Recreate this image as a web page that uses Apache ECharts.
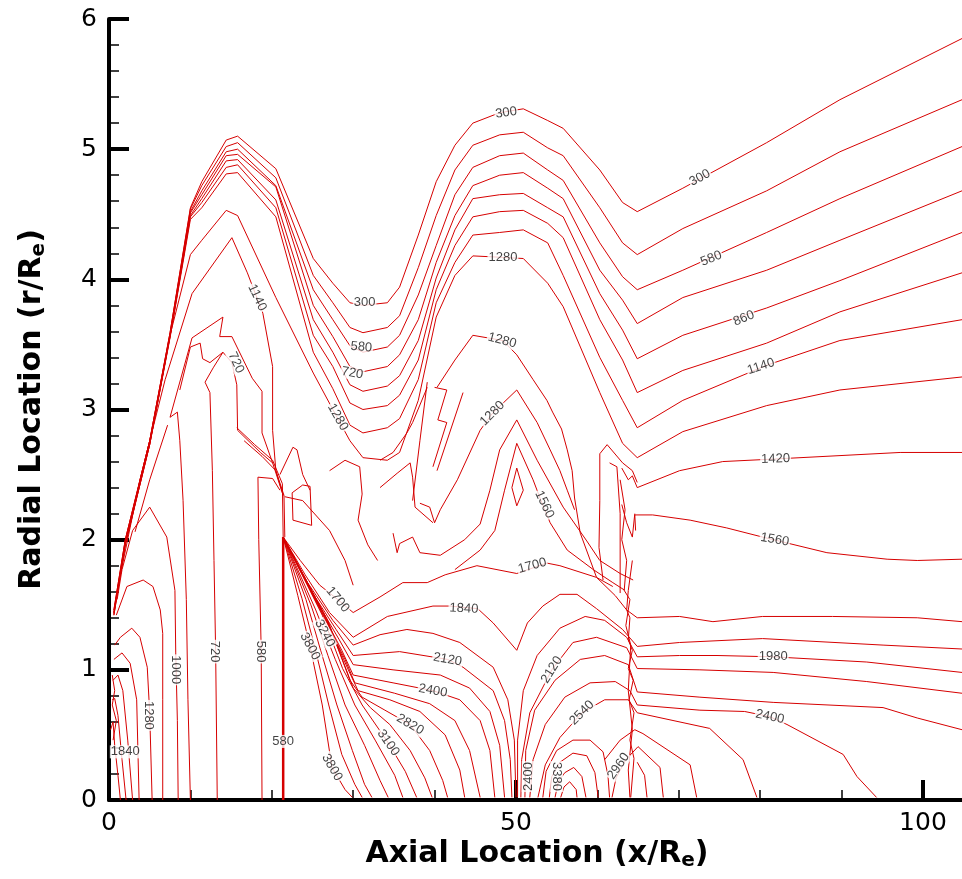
<!DOCTYPE html>
<html><head><meta charset="utf-8">
<script src="https://cdn.jsdelivr.net/npm/echarts@6/dist/echarts.min.js"></script>
<style>html,body{margin:0;padding:0;background:#fff}#c{width:962px;height:879px}</style>
</head><body><div id="c"></div>
<script>
// ---------- contour data (x/Re, r/Re) ----------
const uX = [0.6,2.0,5.0,7.5,10.0,11.4,14.4,15.8,20.5,25.1,27.5,29.6,31.2,34.2,35.7,38.0,40.2,42.5,44.7,48.0,50.9,53.9,55.8,60.3,63.1,64.9,70.5,80.8,89.8,104.8];
const u300Y  = [1.46,2.00,2.76,3.59,4.55,4.75,5.07,5.10,4.85,4.16,3.97,3.82,3.80,3.82,3.94,4.34,4.75,5.03,5.20,5.28,5.31,5.22,5.16,4.84,4.59,4.52,4.70,5.05,5.38,5.85];
const u440Y  = [1.46,2.00,2.76,3.59,4.54,4.72,5.02,5.05,4.78,4.03,3.82,3.63,3.59,3.63,3.72,4.09,4.49,4.84,5.03,5.11,5.13,5.01,4.95,4.55,4.28,4.19,4.39,4.68,4.98,5.38];
const u580Y  = [1.44,1.99,2.76,3.58,4.52,4.68,4.98,5.00,4.72,3.92,3.69,3.49,3.44,3.48,3.57,3.88,4.26,4.65,4.86,4.95,4.97,4.84,4.76,4.28,4.02,3.92,4.07,4.36,4.62,5.02];
const u720Y  = [1.44,1.98,2.75,3.57,4.51,4.65,4.95,4.96,4.71,3.80,3.56,3.33,3.29,3.33,3.42,3.69,4.13,4.49,4.72,4.80,4.82,4.70,4.62,4.07,3.84,3.66,3.86,4.07,4.30,4.68];
const u860Y  = [1.44,1.97,2.74,3.56,4.49,4.62,4.91,4.92,4.61,3.69,3.44,3.19,3.14,3.18,3.26,3.53,4.01,4.38,4.62,4.65,4.66,4.55,4.48,3.89,3.61,3.39,3.57,3.78,3.99,4.36];
const u1000Y = [1.43,1.97,2.73,3.56,4.48,4.59,4.86,4.88,4.55,3.57,3.33,3.05,3.00,3.03,3.11,3.38,3.92,4.26,4.48,4.52,4.53,4.43,4.32,3.69,3.38,3.13,3.30,3.51,3.75,4.05];
const u1140Y = [1.42,1.96,2.73,3.55,4.46,4.55,4.81,4.82,4.48,3.44,3.16,2.88,2.82,2.86,2.93,3.23,3.82,4.13,4.34,4.36,4.38,4.28,4.03,3.40,3.07,2.86,3.07,3.34,3.53,3.69];
const u1280Y = [1.42,1.96,2.73,3.57,4.19,4.30,4.53,4.49,3.86,3.28,3.00,2.76,2.63,2.61,2.67,3.07,3.71,4.03,4.18,4.17,4.16,3.97,3.79,3.13,2.74,2.63,2.83,3.03,3.15,3.25];

const c1420R = [[63.0,2.55],[63.8,2.46],[64.3,2.49],[64.9,2.40],[70.1,2.53],[75.4,2.60],[81.9,2.62],[97.2,2.67],[104.8,2.67]];
const c1560R = [[64.7,2.07],[64.6,2.19],[66.8,2.19],[71.4,2.15],[75.9,2.09],[80.3,2.02],[88.2,1.90],[95.6,1.85],[99.3,1.84],[104.8,1.85]];
const c1700 = [[21.4,2.02],[23.5,1.84],[25.9,1.65],[28.1,1.54],[30.0,1.44],[33.3,1.56],[36.1,1.67],[39.1,1.67],[41.3,1.73],[45.2,1.80],[50.1,1.74],[53.8,1.82],[55.4,1.80],[59.9,1.71],[62.2,1.57],[63.6,1.46],[64.9,1.40],[70.1,1.41],[74.2,1.37],[80.3,1.41],[88.9,1.41],[99.3,1.40],[104.8,1.37]];
const c1840 = [[21.4,2.02],[24.1,1.73],[27.1,1.44],[30.0,1.25],[34.2,1.41],[39.8,1.49],[41.9,1.49],[45.3,1.47],[47.2,1.36],[50.1,1.15],[51.4,1.36],[53.3,1.49],[55.4,1.58],[57.5,1.58],[59.9,1.47],[63.1,1.31],[64.9,1.18],[70.1,1.21],[80.3,1.24],[95.1,1.19],[104.8,1.16]];
const f1980 = [[21.4,2.02],[24.4,1.67],[27.5,1.38],[30.0,1.19],[33.3,1.27],[36.6,1.31],[39.8,1.28],[43.1,1.21],[47.2,1.02],[49.0,0.77],[49.8,0.46],[50.0,0.02]];
const f2120 = [[21.4,2.02],[24.8,1.61],[27.9,1.31],[30.0,1.11],[35.7,1.14],[41.6,1.08],[43.5,1.02],[47.2,0.84],[48.6,0.61],[49.3,0.31],[49.5,0.02]];
const f2260 = [[21.4,2.02],[25.2,1.56],[28.3,1.23],[30.0,1.04],[34.9,1.00],[40.7,0.96],[44.3,0.86],[46.8,0.68],[48.0,0.42],[48.6,0.02]];
const f2400 = [[21.4,2.02],[25.6,1.51],[28.6,1.15],[30.0,0.96],[34.9,0.90],[39.8,0.84],[43.1,0.77],[45.6,0.61],[46.8,0.38],[47.4,0.02]];
const f2540 = [[21.4,2.02],[25.9,1.47],[29.0,1.08],[30.2,0.90],[35.1,0.82],[39.4,0.74],[42.5,0.61],[44.3,0.38],[45.6,0.02]];
const f2680 = [[21.4,2.02],[26.3,1.44],[29.4,1.00],[30.6,0.84],[34.5,0.77],[38.2,0.68],[41.3,0.50],[43.1,0.23],[43.7,0.02]];
const f2820 = [[21.4,2.02],[26.7,1.40],[29.6,0.92],[31.1,0.79],[33.9,0.69],[37.0,0.58],[39.4,0.38],[41.0,0.15],[41.6,0.02]];
const f2960 = [[21.4,2.02],[27.0,1.36],[30.0,0.86],[32.1,0.71],[34.5,0.58],[37.0,0.38],[38.8,0.17],[39.7,0.02]];
const f3100 = [[21.4,2.02],[26.2,1.42],[28.7,1.01],[31.1,0.73],[34.3,0.44],[36.4,0.22],[37.8,0.02]];
const f3240 = [[21.4,2.02],[25.4,1.46],[27.8,1.08],[30.2,0.73],[32.7,0.46],[35.1,0.19],[36.1,0.02]];
const f3380 = [[21.4,2.02],[24.8,1.50],[26.9,1.11],[29.0,0.73],[31.4,0.42],[33.3,0.15],[34.3,0.02]];
const f3520 = [[21.4,2.02],[24.2,1.54],[26.0,1.15],[28.0,0.73],[29.9,0.38],[31.4,0.12],[32.3,0.02]];
const f3660 = [[21.4,2.02],[23.7,1.55],[25.3,1.17],[27.0,0.73],[28.6,0.35],[30.2,0.12],[31.1,0.02]];
const f3800 = [[21.4,2.02],[23.2,1.57],[24.7,1.18],[26.2,0.73],[27.4,0.25],[29.0,0.08],[29.9,0.02]];
const r1980 = [[50.2,0.02],[50.2,0.46],[50.9,0.84],[52.6,1.11],[55.4,1.32],[58.5,1.41],[60.9,1.38],[63.6,1.25],[64.9,1.10],[70.1,1.11],[74.7,1.11],[81.6,1.10],[93.1,1.06],[104.8,0.98]];
const r2120 = [[50.6,0.02],[50.7,0.31],[51.7,0.67],[54.4,1.00],[57.0,1.21],[59.9,1.25],[63.6,1.17],[64.9,1.01],[72.6,1.00],[81.6,0.98],[93.1,0.91],[104.8,0.82]];
const r2260 = [[51.1,0.02],[51.2,0.38],[52.3,0.69],[54.8,0.92],[57.9,1.08],[60.9,1.11],[63.8,1.04],[64.9,0.83],[72.6,0.79],[81.6,0.75],[95.1,0.71],[99.3,0.63],[104.8,0.54]];
const r2400 = [[51.7,0.02],[52.1,0.31],[53.6,0.58],[56.0,0.79],[59.1,0.90],[62.2,0.91],[64.0,0.84],[64.9,0.73],[72.6,0.69],[78.1,0.68],[81.2,0.64],[83.3,0.58],[90.2,0.35],[91.9,0.18],[94.3,0.02]];
const r2540 = [[52.7,0.02],[53.6,0.27],[55.4,0.48],[58.1,0.67],[60.9,0.77],[63.8,0.77],[64.9,0.67],[73.8,0.55],[77.9,0.31],[79.6,0.02]];
const r2680 = [[60.9,0.31],[62.8,0.46],[64.6,0.54],[65.6,0.51],[71.4,0.27],[72.2,0.02]];
const r2960 = [[61.8,0.02],[62.3,0.17],[63.5,0.31],[65.0,0.41],[67.7,0.25],[68.1,0.02]];
const r3100 = [[64.9,0.29],[65.8,0.19],[66.1,0.02]];
const a2680 = [[53.3,0.02],[53.7,0.22],[55.0,0.38],[57.0,0.46],[59.1,0.46],[60.7,0.37],[61.3,0.19],[61.5,0.02]];
const a2820 = [[54.1,0.02],[54.4,0.18],[55.4,0.29],[57.0,0.36],[58.7,0.34],[59.7,0.21],[60.1,0.02]];
const a2960 = [[54.8,0.02],[55.2,0.14],[56.0,0.21],[57.1,0.25],[58.1,0.18],[58.6,0.02]];
const a3100 = [[55.5,0.02],[55.9,0.10],[56.6,0.14],[57.4,0.08],[57.5,0.02]];
const bandA = [[64.3,1.84],[63.8,1.61],[63.6,1.46],[64.0,1.40],[63.8,1.23],[64.3,1.15],[63.8,1.01],[64.4,0.92],[63.9,0.77],[64.5,0.67],[64.0,0.46],[64.5,0.32],[64.1,0.02]];
const bandB = [[62.8,2.46],[63.4,2.23],[63.0,2.00],[63.6,1.84],[63.3,1.61],[64.0,1.54],[63.5,1.34],[64.1,1.19],[63.8,0.84],[64.3,0.54],[63.8,0.23],[64.0,0.02]];
const sq1 = [[60.3,2.66],[61.2,2.73],[63.1,2.59],[64.3,2.53],[64.9,2.44]];
const sq2 = [[60.3,2.66],[60.3,2.30],[60.2,1.94],[60.7,1.69]];
const sq3 = [[61.5,2.59],[62.4,2.56],[62.8,2.20],[62.8,1.59]];
const sq4 = [[63.0,2.27],[63.6,2.13],[64.3,2.02],[64.6,2.20]];
const domeA = [[40.3,3.17],[42.5,3.38],[44.7,3.57],[48.4,3.53],[50.1,3.42],[52.1,3.23],[53.8,3.07],[54.5,2.98],[55.6,2.85],[56.3,2.69],[56.9,2.53],[57.2,2.32],[57.9,2.05],[59.9,1.71],[61.9,1.64]];
const domeB = [[38.2,2.28],[39.4,2.25],[40.0,2.13],[40.7,2.23],[42.8,2.46],[45.6,2.84],[47.1,2.97],[50.1,3.15],[52.6,2.90],[54.2,2.69],[55.4,2.53],[56.3,2.38],[57.2,2.23]];
const domeC = [[34.9,2.05],[35.4,1.90],[35.7,1.97],[37.3,2.02],[38.2,1.90],[40.7,1.88],[43.7,2.00],[45.6,2.12],[46.8,2.38],[48.0,2.69],[50.1,2.92],[52.6,2.61],[55.8,2.25],[58.7,1.99],[60.3,1.84],[62.8,1.74],[64.4,1.69]];
const domeD = [[42.5,1.77],[45.6,1.92],[47.4,2.07],[48.6,2.38],[50.1,2.74],[52.1,2.46],[53.2,2.28],[54.2,2.13],[56.3,1.92],[59.5,1.77],[61.9,1.67],[63.4,1.61]];
const loopE = [[50.1,2.55],[50.9,2.38],[50.1,2.26],[49.5,2.40],[50.1,2.55]];
const mess1 = [[33.3,2.61],[34.9,2.67],[36.6,2.82],[37.3,2.90],[39.1,3.17]];
const mess2 = [[33.3,2.40],[35.4,2.51],[37.0,2.59],[37.3,2.48],[37.6,2.25],[39.8,2.13]];
const spike1 = [[39.1,3.21],[38.2,2.76],[37.3,2.30]];
const spike2 = [[40.0,3.17],[41.5,3.15],[40.4,2.92],[41.5,2.90],[39.8,2.56]];
const spike3 = [[43.5,3.13],[40.3,2.53]];
const mess5 = [[27.1,2.53],[29.0,2.61],[30.8,2.56],[31.1,2.35],[30.6,2.15],[31.8,1.96],[33.0,1.84]];
const mess6 = [[21.6,2.33],[23.8,2.30],[27.1,2.07],[29.0,1.84],[30.0,1.65]];
const mess10 = [[21.0,2.50],[22.6,2.71],[23.1,2.69],[23.8,2.50],[24.7,2.38]];
const mess4 = [[22.5,2.36],[23.8,2.42],[24.7,2.41],[24.9,2.11],[22.6,2.15],[22.5,2.36]];
const conv1 = [[15.7,2.86],[17.9,2.73],[20.1,2.61],[21.3,2.43],[21.4,2.02]];
const conv2 = [[16.6,2.76],[18.8,2.64],[20.5,2.53],[21.5,2.34],[21.6,2.02]];
const h1140 = [[1.4,1.73],[3.8,2.46],[6.9,3.23],[10.2,3.89],[15.1,4.32],[17.0,4.05],[18.9,3.74],[20.1,3.33],[20.1,2.84],[20.5,2.53],[21.4,2.34]];
const h860 = [[10.0,0.00],[9.7,0.77],[9.5,1.54],[9.1,2.30],[8.7,2.76],[8.4,2.98],[7.5,2.94],[10.2,3.55],[14.0,3.71],[13.6,3.56],[15.1,3.56],[17.6,3.24],[18.8,3.14],[18.8,2.82],[20.1,2.59],[21.4,2.34]];
const hLeft = [[3.2,2.06],[5.0,2.46],[7.2,2.88]];
const h720 = [[13.3,0.00],[13.1,1.15],[12.9,1.84],[12.7,2.53],[12.4,3.13],[11.8,3.21],[12.8,3.32],[14.0,3.44],[15.1,3.36],[15.7,3.19],[15.8,2.84],[18.6,2.67],[20.1,2.59]];
const hZig = [[8.7,3.15],[10.0,3.48],[11.2,3.51],[11.5,3.39],[12.4,3.36],[14.0,3.44]];
const h580 = [[18.8,0.00],[18.7,1.15],[18.4,2.00],[18.3,2.48],[20.1,2.47],[21.0,2.38]];
const v580 = [[21.4,2.02],[21.4,0.00]];
const a1000 = [[1.0,1.54],[1.6,1.77],[2.9,2.07],[5.0,2.25],[7.1,2.02],[8.1,1.61],[8.2,1.13],[8.4,0.61],[8.5,0.00]];
const a1140 = [[0.9,1.42],[2.2,1.64],[4.2,1.69],[5.4,1.64],[6.3,1.46],[6.6,1.28],[6.6,0.77],[6.6,0.00]];
const a1280 = [[0.7,1.19],[1.4,1.25],[2.8,1.32],[3.8,1.25],[4.7,1.02],[5.0,0.67],[5.3,0.00]];
const a1420 = [[0.6,1.08],[1.6,1.13],[2.6,1.05],[3.4,0.77],[3.7,0.00]];
const a1560 = [[0.5,0.92],[1.1,0.96],[1.7,0.84],[2.3,0.46],[2.9,0.00]];
const a1700 = [[0.4,0.77],[0.7,0.78],[1.1,0.65],[1.6,0.31],[2.1,0.00]];
const a1840 = [[0.2,0.54],[0.5,0.60],[0.7,0.42],[1.1,0.19],[1.4,0.00]];
const jag1 = [[0.4,0.96],[0.7,0.84],[0.4,0.73],[0.9,0.61],[0.5,0.46]];

// contour labels: position, text, angle
const labelPos = [[48.8,5.28],[72.6,4.78],[74.0,4.16],[78.0,3.70],[80.1,3.33],[81.9,2.62],[81.8,2.00],[81.6,1.10],[81.2,0.64],[48.4,4.17],[48.3,3.53],[47.1,2.97],[53.5,2.27],[52.0,1.80],[43.6,1.47],[41.6,1.08],[39.8,0.84],[37.0,0.58],[34.3,0.44],[27.4,0.25],[24.7,1.18],[26.5,1.28],[28.1,1.54],[54.4,1.00],[58.1,0.67],[62.6,0.26],[51.5,0.18],[55.0,0.18],[31.4,3.82],[31.0,3.48],[29.9,3.28],[28.1,2.94],[18.2,3.86],[15.6,3.36],[8.2,1.00],[13.0,1.14],[18.6,1.14],[4.9,0.65],[21.4,0.45],[2.0,0.37]];
const labelText = ['300','300','580','860','1140','1420','1560','1980','2400','1280','1280','1280','1560','1700','1840','2120','2400','2820','3100','3800','3800','3240','1700','2120','2540','2960','2400','3380','300','580','720','1280','1140','720','1000','720','580','1280','580','1840'];
const labelAngle = [8,28,22,22,18,2,-10,0,-12,0,-15,45,-65,15,-3,-10,-10,-30,-55,-60,-62,-62,-50,58,45,55,90,-90,0,-5,-10,-60,-65,-65,-90,-90,-90,-90,0,0];

// axis ticks
const xMajorTicks = [0,50,100];
const xMinorTicks = [10,20,30,40,60,70,80,90];

// ---------- build ----------
const RED = '#d60000';
const FONT = 'DejaVu Sans, Verdana, sans-serif';
const LFONT = 'Liberation Sans, Arial, sans-serif';
const uLines = [u300Y,u440Y,u580Y,u720Y,u860Y,u1000Y,u1140Y,u1280Y].map(ys => ys.map((y,i)=>[uX[i],y]));
const others = [c1420R,c1560R,c1700,c1840,f1980,f2120,f2260,f2400,f2540,f2680,f2820,f2960,f3100,f3240,f3380,f3520,f3660,f3800,
  r1980,r2120,r2260,r2400,r2540,r2680,r2960,r3100,a2680,a2820,a2960,a3100,bandA,bandB,sq1,sq2,sq3,sq4,
  domeA,domeB,domeC,domeD,loopE,mess1,mess2,spike1,spike2,spike3,mess5,mess6,mess10,mess4,conv1,conv2,
  h1140,h860,hLeft,h720,hZig,h580,a1000,a1140,a1280,a1420,a1560,a1700,a1840,jag1];
const series = [];
uLines.concat(others).forEach(d => series.push({type:'line', data:d, showSymbol:false, symbol:'none', silent:true,
  lineStyle:{color:RED, width:1}, z:2}));
series.push({type:'line', data:v580, showSymbol:false, symbol:'none', silent:true, lineStyle:{color:RED, width:2.5}, z:2});
series.push({type:'scatter', silent:true, z:5, symbolSize:1, itemStyle:{color:'rgba(0,0,0,0)'},
  data: labelPos.map((p,i)=>({value:p, label:{show:true, formatter:labelText[i], rotate:labelAngle[i]}})),
  label:{position:'inside', color:'#111', fontSize:13, fontFamily:LFONT, backgroundColor:'#fff', padding:[0,1]}});

const chart = echarts.init(document.getElementById('c'), null, {renderer:'canvas'});
chart.setOption({
  animation:false,
  backgroundColor:'#fff',
  grid:{left:109, top:19, bottom:79, right:0},
  xAxis:[{type:'value', min:0, max:104.8, position:'bottom',
    axisLine:{onZero:false, lineStyle:{color:'#000', width:4}},
    axisTick:{inside:true, length:20, customValues:xMajorTicks, lineStyle:{color:'#000', width:4}},
    axisLabel:{color:'#000', fontSize:25, margin:11, fontFamily:FONT, customValues:xMajorTicks},
    splitLine:{show:false}},
   {type:'value', min:0, max:104.8, position:'bottom',
    axisLine:{show:false},
    axisTick:{inside:true, length:10, customValues:xMinorTicks, lineStyle:{color:'#000', width:1.5}},
    axisLabel:{show:false},
    splitLine:{show:false}}],
  yAxis:{type:'value', min:0, max:6, interval:1,
    axisLine:{onZero:false, lineStyle:{color:'#000', width:4}},
    axisTick:{inside:true, length:20, lineStyle:{color:'#000', width:4}},
    minorTick:{show:true, splitNumber:5, length:10, lineStyle:{color:'#000', width:1.5}},
    axisLabel:{color:'#000', fontSize:25, margin:12, fontFamily:FONT},
    splitLine:{show:false}, minorSplitLine:{show:false},
    name:'{t|Radial Location (r/R}{s|e}{t|)}', nameLocation:'middle', nameGap:60, nameRotate:90,
    nameTextStyle:{rich:{
      t:{fontSize:30, fontWeight:'bold', fontFamily:FONT, color:'#000', lineHeight:34},
      s:{fontSize:20, fontWeight:'bold', fontFamily:FONT, color:'#000', lineHeight:12, verticalAlign:'bottom'}}}},
  graphic:[{type:'text', x:537, y:854, style:{text:'{t|Axial Location (x/R}{s|e}{t|)}', align:'center', verticalAlign:'middle',
    rich:{t:{fontSize:30, fontWeight:'bold', fontFamily:FONT, fill:'#000', lineHeight:34},
          s:{fontSize:20, fontWeight:'bold', fontFamily:FONT, fill:'#000', lineHeight:12, verticalAlign:'bottom'}}}}],
  series: series
});
</script></body></html>
